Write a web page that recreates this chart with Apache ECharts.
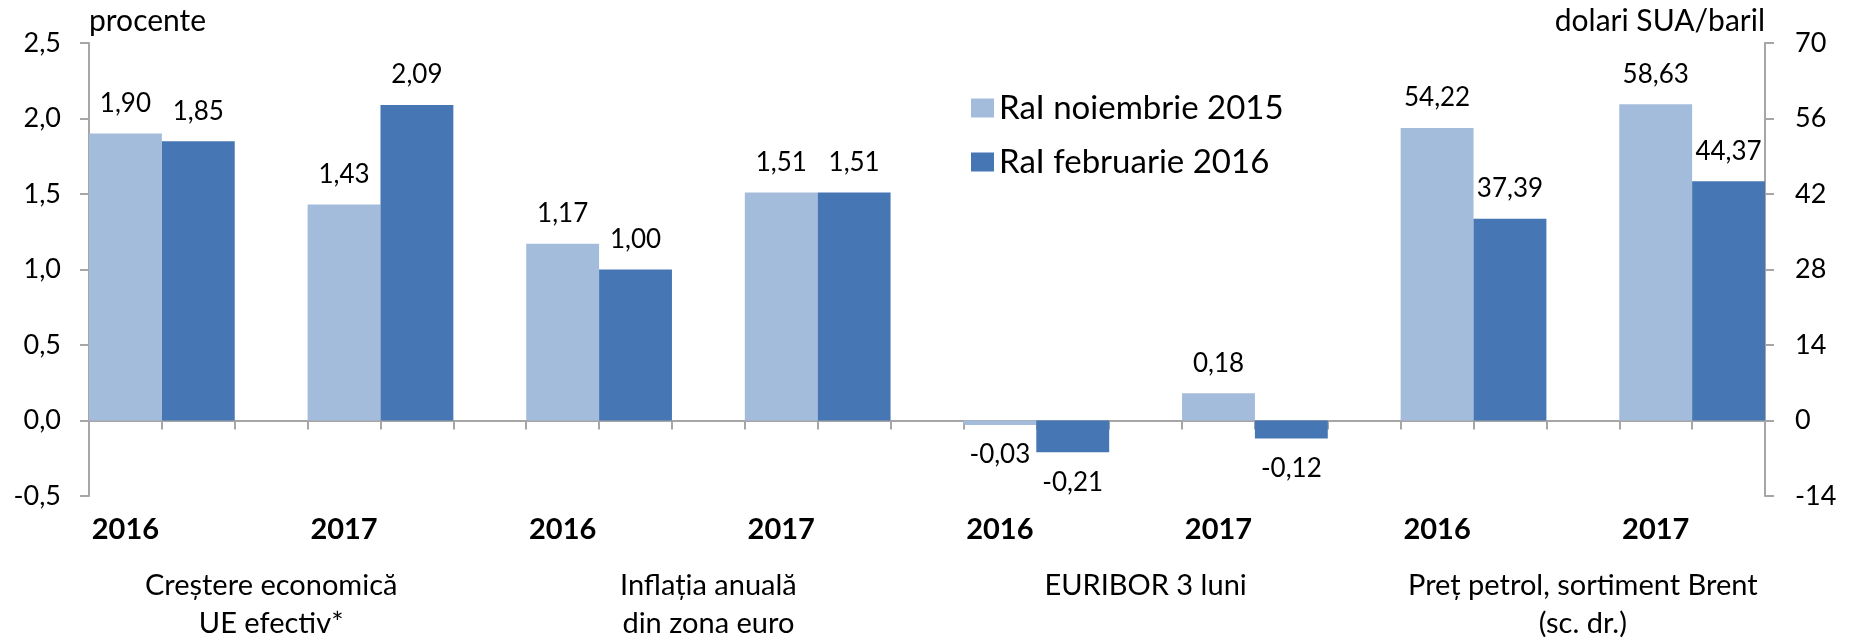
<!DOCTYPE html>
<html>
<head>
<meta charset="utf-8">
<script src="https://cdn.jsdelivr.net/npm/echarts@6/dist/echarts.min.js"></script>
<style>
  html, body { margin: 0; padding: 0; background: #fff; }
  #chart { width: 1849px; height: 643px; }
</style>
</head>
<body>
<div id="chart"></div>
<script>
// Indicator groups (two years each)
const groupNames = [
  'Creștere economică\nUE efectiv*',
  'Inflația anuală\ndin zona euro',
  'EURIBOR 3 luni',
  'Preț petrol, sortiment Brent\n(sc. dr.)'
];
const years = ['2016', '2017', '2016', '2017', '2016', '2017', '2016', '2017'];

// Forecast values per year (last two pairs are oil prices, right scale)
const ralNov2015 = [1.90, 1.43, 1.17, 1.51, -0.03, 0.18, 54.22, 58.63];
const ralFeb2016 = [1.85, 2.09, 1.00, 1.51, -0.21, -0.12, 37.39, 44.37];
const firstRightAxisItem = 6;

const seriesNames = ['RaI noiembrie 2015', 'RaI februarie 2016'];

// Axis scales
const leftAxis = { min: -0.5, max: 2.5, step: 0.5, name: 'procente' };
const rightAxis = { min: -14, max: 70, step: 14, name: 'dolari SUA/baril' };

const LIGHT = '#A3BCDB';
const DARK = '#4677B4';
const AXIS_GREY = '#A6A6A6';
const FONT = 'Lato';

// Layout: each year occupies a light slot and a dark slot, followed by an empty slot
const slotCount = years.length * 3 - 1;
const slotIds = Array.from({ length: slotCount }, (_, i) => 's' + i);
const halfIds = Array.from({ length: slotCount * 2 + 1 }, (_, i) => 'h' + i);

const yearAtHalf = {};
years.forEach((y, g) => { yearAtHalf[6 * g + 1] = y; });
const groupAtHalf = {};
groupNames.forEach((n, i) => { groupAtHalf[12 * i + 5] = n; });

const fmt = v => v.toFixed(2).replace('.', ',');

function slotData(values, offset, rightSide) {
  const out = new Array(slotCount).fill(null);
  values.forEach((v, g) => {
    if ((g >= firstRightAxisItem) === rightSide) {
      out[3 * g + offset] = { value: v, label: { position: v < 0 ? 'bottom' : 'top' } };
    }
  });
  return out;
}

function barSeries(name, values, offset, color, rightSide) {
  return {
    name: name,
    type: 'bar',
    xAxisIndex: 0,
    yAxisIndex: rightSide ? 1 : 0,
    barWidth: '100%',
    barGap: '-100%',
    data: slotData(values, offset, rightSide),
    itemStyle: { color: color },
    label: {
      show: true,
      formatter: p => fmt(p.value),
      fontFamily: FONT,
      fontSize: 26,
      lineHeight: 26,
      color: '#000',
      distance: 17
    },
    emphasis: { disabled: true },
    animation: false
  };
}

const chart = echarts.init(document.getElementById('chart'));

const valueAxisCommon = {
  type: 'value',
  splitLine: { show: false },
  axisLine: { show: true, onZero: false, lineStyle: { color: AXIS_GREY, width: 2 } },
  axisTick: { show: true, length: 9, lineStyle: { color: AXIS_GREY, width: 2 } },
  nameLocation: 'end'
};

chart.setOption({
  animation: false,
  grid: { left: 89, right: 84, top: 43, bottom: 142 },
  legend: {
    data: seriesNames,
    orient: 'vertical',
    left: 966,
    top: 86,
    icon: 'rect',
    itemWidth: 23,
    itemHeight: 19,
    itemGap: 20,
    textStyle: { fontFamily: FONT, fontSize: 33, lineHeight: 34, color: '#000' }
  },
  xAxis: [
    {
      type: 'category',
      data: slotIds,
      boundaryGap: true,
      axisLine: { show: true, onZero: true, lineStyle: { color: AXIS_GREY, width: 2 } },
      axisTick: { show: true, interval: 0, length: 9, lineStyle: { color: AXIS_GREY, width: 2 } },
      axisLabel: { show: false },
      splitLine: { show: false }
    },
    {
      type: 'category',
      data: halfIds,
      boundaryGap: false,
      position: 'bottom',
      axisLine: { show: false, onZero: false },
      axisTick: { show: false },
      splitLine: { show: false },
      axisLabel: {
        interval: 0,
        margin: 19,
        formatter: (v, i) => yearAtHalf[i] || '',
        fontFamily: FONT,
        fontWeight: 'bold',
        fontSize: 29,
        lineHeight: 29,
        color: '#000'
      }
    },
    {
      type: 'category',
      data: halfIds,
      boundaryGap: false,
      position: 'bottom',
      axisLine: { show: false, onZero: false },
      axisTick: { show: false },
      splitLine: { show: false },
      axisLabel: {
        interval: 0,
        margin: 71,
        formatter: (v, i) => groupAtHalf[i] || '',
        fontFamily: FONT,
        fontSize: 29,
        lineHeight: 38,
        color: '#000',
        align: 'center'
      }
    }
  ],
  yAxis: [
    Object.assign({}, valueAxisCommon, {
      position: 'left',
      min: leftAxis.min,
      max: leftAxis.max,
      interval: leftAxis.step,
      name: leftAxis.name,
      nameGap: 22,
      nameTextStyle: { fontFamily: FONT, fontSize: 30, color: '#000', align: 'left', verticalAlign: 'middle' },
      axisLabel: {
        margin: 28,
        formatter: v => v.toFixed(1).replace('.', ','),
        fontFamily: FONT,
        fontSize: 27,
        color: '#000'
      }
    }),
    Object.assign({}, valueAxisCommon, {
      position: 'right',
      min: rightAxis.min,
      max: rightAxis.max,
      interval: rightAxis.step,
      name: rightAxis.name,
      nameGap: 22,
      nameTextStyle: { fontFamily: FONT, fontSize: 30, color: '#000', align: 'right', verticalAlign: 'middle' },
      axisLabel: {
        margin: 30,
        formatter: v => String(v),
        fontFamily: FONT,
        fontSize: 27,
        color: '#000'
      }
    })
  ],
  series: [
    barSeries(seriesNames[0], ralNov2015, 0, LIGHT, false),
    barSeries(seriesNames[1], ralFeb2016, 1, DARK, false),
    barSeries(seriesNames[0], ralNov2015, 0, LIGHT, true),
    barSeries(seriesNames[1], ralFeb2016, 1, DARK, true)
  ]
});
</script>
</body>
</html>
